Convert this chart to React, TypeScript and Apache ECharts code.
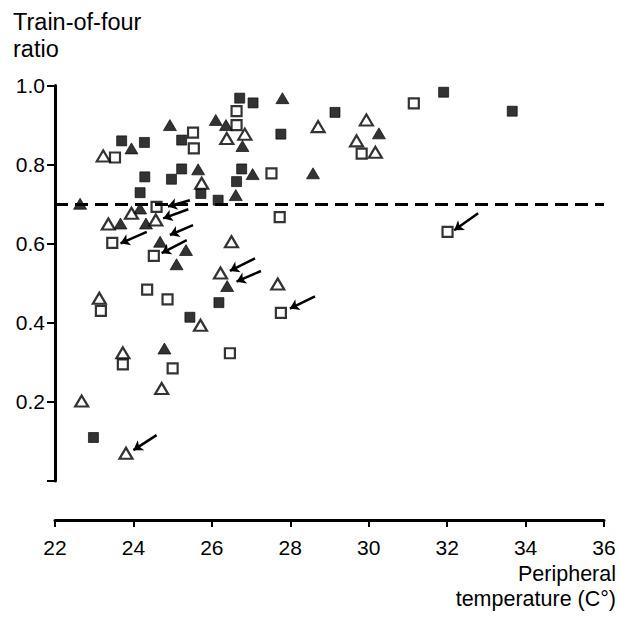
import React, { useEffect, useRef } from "react";
import * as echarts from "echarts";

const xTicks = { min: 22, max: 36, interval: 2 };
const yTicks = { min: 0, max: 1, interval: 0.2 };
const thresholdRatio = 0.705;

// [peripheral temperature (°C), train-of-four ratio]
const filledSquares: [number, number][] = [
  [23.7, 0.86], [24.28, 0.856], [25.23, 0.862], [25.23, 0.789], [24.97, 0.763],
  [24.29, 0.769], [25.72, 0.727], [24.17, 0.729], [26.71, 0.968], [27.05, 0.956],
  [29.14, 0.932], [27.76, 0.877], [26.76, 0.789], [26.63, 0.757], [26.16, 0.71],
  [31.91, 0.983], [33.66, 0.935], [25.44, 0.414], [26.18, 0.451], [22.98, 0.11],
];
const openSquares: [number, number][] = [
  [25.52, 0.881], [25.54, 0.841], [23.53, 0.818], [26.63, 0.935], [26.63, 0.9],
  [27.52, 0.778], [29.82, 0.828], [31.15, 0.955], [24.59, 0.693], [23.46, 0.602],
  [24.52, 0.569], [23.17, 0.43], [24.35, 0.484], [24.87, 0.459], [27.73, 0.667],
  [27.76, 0.425], [23.73, 0.295], [25.0, 0.285], [26.46, 0.323], [32.01, 0.63],
];
const filledTriangles: [number, number][] = [
  [24.93, 0.9], [23.95, 0.841], [25.65, 0.788], [22.64, 0.701], [26.1, 0.913],
  [26.36, 0.9], [26.78, 0.847], [27.8, 0.968], [27.04, 0.776], [28.58, 0.778],
  [26.61, 0.723], [30.26, 0.879], [24.17, 0.689], [23.67, 0.651], [24.32, 0.651],
  [24.68, 0.605], [25.34, 0.584], [25.1, 0.548], [26.39, 0.493], [24.79, 0.335],
];
const openTriangles: [number, number][] = [
  [23.23, 0.822], [25.74, 0.753], [26.38, 0.866], [26.84, 0.877], [28.71, 0.896],
  [29.69, 0.86], [29.94, 0.913], [30.17, 0.831], [23.95, 0.677], [23.36, 0.65],
  [24.57, 0.66], [26.5, 0.605], [26.22, 0.526], [27.68, 0.498], [23.13, 0.462],
  [25.71, 0.394], [23.73, 0.324], [24.72, 0.234], [22.68, 0.202], [23.81, 0.07],
];
// arrows: [tail, head]
const arrows: [[number, number], [number, number]][] = [
  [[24.34, 0.63], [23.67, 0.601]],
  [[25.36, 0.609], [24.72, 0.576]],
  [[25.52, 0.647], [24.93, 0.622]],
  [[25.4, 0.687], [24.76, 0.664]],
  [[25.44, 0.71], [24.88, 0.694]],
  [[27.1, 0.563], [26.46, 0.531]],
  [[27.25, 0.531], [26.63, 0.504]],
  [[28.63, 0.467], [27.99, 0.436]],
  [[24.59, 0.116], [24.0, 0.078]],
  [[32.79, 0.677], [32.18, 0.634]],
];

const FONT = "'Liberation Sans', Arial, Helvetica, sans-serif";

export default function App() {
  const ref = useRef<HTMLDivElement>(null);
  useEffect(() => {
    if (!ref.current) return;
    const chart = echarts.init(ref.current, undefined, { renderer: "svg" });
    const scatter = (name: string, data: [number, number][], symbol: string, size: any, filled: boolean) => ({
      name,
      type: "scatter",
      data,
      symbol,
      symbolSize: size,
      itemStyle: filled
        ? { color: "#000", borderColor: "#000", borderWidth: 0.8 }
        : { color: "#fff", borderColor: "#000", borderWidth: 2.2 },
      z: filled ? 3 : 4,
    });
    chart.setOption({
      animation: false,
      backgroundColor: "#fff",
      textStyle: { fontFamily: FONT },
      grid: { left: 55, right: 15, top: 85.5, bottom: 138, containLabel: false },
      xAxis: {
        type: "value",
        min: xTicks.min,
        max: xTicks.max,
        interval: xTicks.interval,
        offset: 39,
        axisLine: { show: true, onZero: false, lineStyle: { color: "#000", width: 3 } },
        axisTick: { show: true, inside: false, length: 7, lineStyle: { color: "#000", width: 2 } },
        axisLabel: { color: "#000", fontSize: 21, margin: 17, fontFamily: FONT },
        splitLine: { show: false },
      },
      yAxis: {
        type: "value",
        min: yTicks.min,
        max: yTicks.max,
        interval: yTicks.interval,
        axisLine: { show: true, onZero: false, lineStyle: { color: "#000", width: 3 } },
        axisTick: { show: true, inside: false, length: 8, lineStyle: { color: "#000", width: 2 } },
        axisLabel: {
          color: "#000",
          fontSize: 21,
          margin: 10,
          fontFamily: FONT,
          formatter: (v: number) => (v === 0 ? "" : v.toFixed(1)),
        },
        splitLine: { show: false },
      },
      graphic: [
        {
          type: "text",
          left: 13,
          top: 8,
          style: { text: "Train-of-four\nratio", fill: "#000", font: `23.5px ${FONT}`, lineHeight: 27 },
        },
        {
          type: "text",
          right: 3,
          top: 563,
          style: { text: "Peripheral", fill: "#000", font: `21.5px ${FONT}` },
        },
        {
          type: "text",
          right: 3,
          top: 588,
          style: { text: "temperature (C°)", fill: "#000", font: `21.5px ${FONT}` },
        },
      ],
      series: [
        {
          type: "line",
          data: [],
          markLine: {
            silent: true,
            symbol: "none",
            label: { show: false },
            lineStyle: { color: "#000", width: 3, type: [13, 7] },
            data: [{ yAxis: thresholdRatio }],
          },
        },
        scatter("filledSquares", filledSquares, "rect", 10, true),
        scatter("openSquares", openSquares, "rect", 10, false),
        scatter("filledTriangles", filledTriangles, "triangle", [13, 11], true),
        scatter("openTriangles", openTriangles, "triangle", [13, 11], false),
        {
          type: "lines",
          coordinateSystem: "cartesian2d",
          symbol: ["none", "arrow"],
          symbolSize: 9,
          lineStyle: { color: "#000", width: 2.5, opacity: 1 },
          z: 5,
          data: arrows.map((a) => ({ coords: a })),
        },
      ],
    });
    return () => chart.dispose();
  }, []);
  return <div ref={ref} style={{ position: "fixed", left: 0, top: 0, width: 619, height: 619 }} />;
}
